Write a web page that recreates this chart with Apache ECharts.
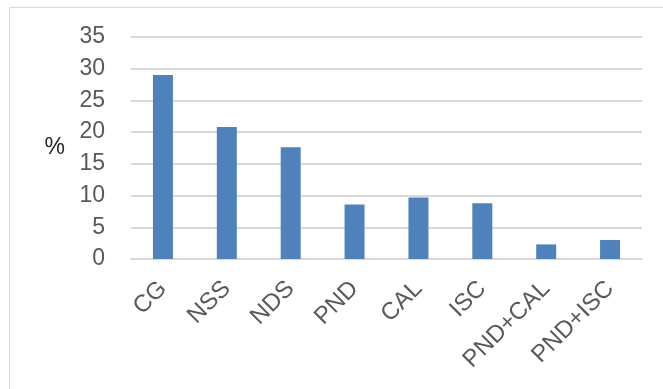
<!DOCTYPE html>
<html>
<head>
<meta charset="utf-8">
<script src="https://cdn.jsdelivr.net/npm/echarts@6/dist/echarts.min.js"></script>
<style>
  html, body { margin: 0; padding: 0; background: #fff; }
  #chart { width: 663px; height: 389px; }
</style>
</head>
<body>
<div id="chart"></div>
<script>
// data
var categories = ['CG', 'NSS', 'NDS', 'PND', 'CAL', 'ISC', 'PND+CAL', 'PND+ISC'];
var percent = [29, 20.8, 17.6, 8.6, 9.7, 8.8, 2.3, 3.0];
var yTicks = { min: 0, max: 35, step: 5 };

var myChart = echarts.init(document.getElementById('chart'));

var option = {
    animation: false,
    textStyle: { fontFamily: 'Liberation Sans' },
    // the thin frame, only top and left edges show in the picture
    graphic: [
        { type: 'line', shape: { x1: 9.5, y1: 7.5, x2: 663, y2: 7.5 }, style: { stroke: '#d9d9d9', lineWidth: 1 } },
        { type: 'line', shape: { x1: 9.5, y1: 7.5, x2: 9.5, y2: 389 }, style: { stroke: '#d9d9d9', lineWidth: 1 } }
    ],
    grid: { left: 131, right: 21, top: 37, bottom: 130, containLabel: false },
    xAxis: {
        type: 'category',
        data: categories,
        axisLine: { show: true, lineStyle: { color: '#d9d9d9', width: 2 } },
        axisTick: { show: false },
        axisLabel: {
            rotate: 45,
            margin: 26,
            interval: 0,
            fontSize: 24,
            color: '#595959'
        }
    },
    yAxis: {
        type: 'value',
        min: yTicks.min,
        max: yTicks.max,
        interval: yTicks.step,
        name: '%',
        nameLocation: 'middle',
        nameRotate: 0,
        nameGap: 66,
        nameTextStyle: { fontSize: 23, color: '#262626', padding: [6, 0, 0, 0] },
        axisLine: { show: false },
        axisTick: { show: false },
        axisLabel: { fontSize: 23, color: '#595959', margin: 26 },
        splitLine: { lineStyle: { color: '#d9d9d9', width: 2 } }
    },
    series: [
        {
            type: 'bar',
            data: percent,
            barWidth: 20,
            itemStyle: { color: '#4F81BD' }
        }
    ]
};

myChart.setOption(option);
</script>
</body>
</html>
